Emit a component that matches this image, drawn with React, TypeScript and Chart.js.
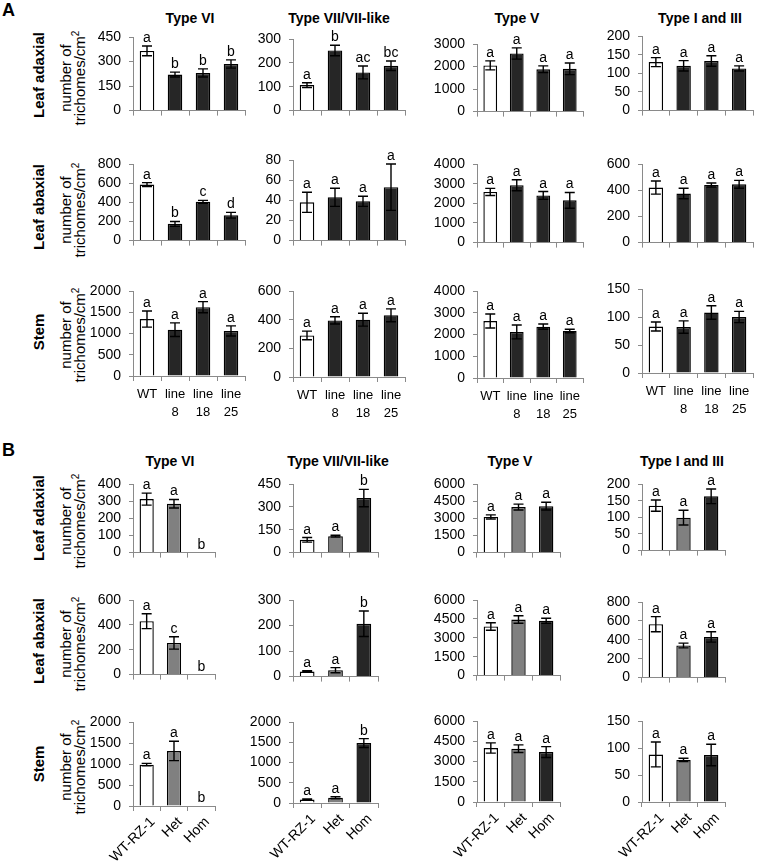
import React, { useEffect, useRef } from "react";
import { Chart, registerables } from "chart.js";
Chart.register(...registerables);

// ---------- categories / labels ----------
const groupsA = [["WT"], ["line", "8"], ["line", "18"], ["line", "25"]];
const groupsB = ["WT-RZ-1", "Het", "Hom"];
const typeTitles = ["Type VI", "Type VII/VII-like", "Type V", "Type I and III"];
const tissues = ["Leaf adaxial", "Leaf abaxial", "Stem"];

// ---------- axis ranges (max, step) ----------
const aAdaxMax = [450, 300, 3000, 200];
const aAdaxStep = [150, 100, 1000, 50];
const aAbaxMax = [800, 80, 4000, 600];
const aAbaxStep = [200, 20, 1000, 200];
const aStemMax = [2000, 600, 4000, 150];
const aStemStep = [500, 200, 1000, 50];
const bAdaxMax = [400, 450, 6000, 200];
const bAdaxStep = [100, 150, 1500, 50];
const bAbaxMax = [600, 300, 6000, 800];
const bAbaxStep = [200, 100, 1500, 200];
const bStemMax = [2000, 2000, 6000, 150];
const bStemStep = [500, 500, 1500, 50];

// ---------- Panel A: Leaf adaxial ----------
const aAdaxVI = [365, 220, 230, 285];
const aAdaxVIErr = [30, 15, 25, 25];
const aAdaxVISig = ["a", "b", "b", "b"];
const aAdaxVII = [107, 252, 160, 188];
const aAdaxVIIErr = [10, 22, 27, 20];
const aAdaxVIISig = ["a", "b", "ac", "bc"];
const aAdaxV = [2050, 2580, 1880, 1900];
const aAdaxVErr = [200, 250, 150, 260];
const aAdaxVSig = ["a", "a", "a", "a"];
const aAdaxI = [130, 120, 133, 113];
const aAdaxIErr = [12, 14, 14, 7];
const aAdaxISig = ["a", "a", "a", "a"];

// ---------- Panel A: Leaf abaxial ----------
const aAbaxVI = [585, 175, 405, 265];
const aAbaxVIErr = [20, 25, 15, 30];
const aAbaxVISig = ["a", "b", "c", "d"];
const aAbaxVII = [38, 43, 39, 53];
const aAbaxVIIErr = [10, 9, 5, 23];
const aAbaxVIISig = ["a", "a", "a", "a"];
const aAbaxV = [2580, 2920, 2400, 2150];
const aAbaxVErr = [180, 280, 200, 400];
const aAbaxVSig = ["a", "a", "a", "a"];
const aAbaxI = [420, 375, 440, 445];
const aAbaxIErr = [50, 40, 15, 30];
const aAbaxISig = ["a", "a", "a", "a"];

// ---------- Panel A: Stem ----------
const aStemVI = [1340, 1090, 1620, 1060];
const aStemVIErr = [190, 160, 130, 120];
const aStemVISig = ["a", "a", "a", "a"];
const aStemVII = [290, 395, 400, 430];
const aStemVIIErr = [30, 25, 45, 45];
const aStemVIISig = ["a", "a", "a", "a"];
const aStemV = [2620, 2120, 2360, 2160];
const aStemVErr = [320, 320, 120, 80];
const aStemVSig = ["a", "a", "a", "a"];
const aStemI = [83, 82, 108, 100];
const aStemIErr = [8, 11, 12, 10];
const aStemISig = ["a", "a", "a", "a"];

// ---------- Panel B: Leaf adaxial ----------
const bAdaxVI = [312, 285, 0];
const bAdaxVIErr = [35, 25, 0];
const bAdaxVISig = ["a", "a", "b"];
const bAdaxVII = [84, 108, 358];
const bAdaxVIIErr = [15, 6, 57];
const bAdaxVIISig = ["a", "a", "b"];
const bAdaxV = [3120, 3980, 4060];
const bAdaxVErr = [180, 260, 340];
const bAdaxVSig = ["a", "a", "a"];
const bAdaxI = [135, 99, 163];
const bAdaxIErr = [17, 22, 22];
const bAdaxISig = ["a", "a", "a"];

// ---------- Panel B: Leaf abaxial ----------
const bAbaxVI = [430, 255, 0];
const bAbaxVIErr = [60, 50, 0];
const bAbaxVISig = ["a", "c", "b"];
const bAbaxVII = [20, 25, 207];
const bAbaxVIIErr = [3, 10, 50];
const bAbaxVIISig = ["a", "a", "b"];
const bAbaxV = [3900, 4450, 4350];
const bAbaxVErr = [300, 300, 200];
const bAbaxVSig = ["a", "a", "a"];
const bAbaxI = [565, 340, 430];
const bAbaxIErr = [80, 25, 55];
const bAbaxISig = ["a", "a", "a"];

// ---------- Panel B: Stem ----------
const bStemVI = [985, 1310, 0];
const bStemVIErr = [30, 230, 0];
const bStemVISig = ["a", "a", "b"];
const bStemVII = [85, 130, 1480];
const bStemVIIErr = [15, 25, 110];
const bStemVIISig = ["a", "a", "b"];
const bStemV = [4000, 3950, 3700];
const bStemVErr = [380, 280, 400];
const bStemVSig = ["a", "a", "a"];
const bStemI = [88, 78, 87];
const bStemIErr = [23, 3, 20];
const bStemISig = ["a", "a", "a"];

// ---------- styling / layout (not data) ----------
const FONT = "'Liberation Sans', Arial, Helvetica, sans-serif";
const AXIS = "#8a8a8a";
const WHITE = "#ffffff";
const DARK = "#262626";
const GREY = "#808080";
const colorsA = [WHITE, DARK, DARK, DARK];
const colorsB = [WHITE, GREY, DARK];

const plotLeft = [133, 293, 477, 642];
const plotRightA = [245, 405, 583, 753];
const plotRightB = [215, 378, 560, 725];

const YW = 56;
const TP = 22;
const RP = 8;

type Spec = {
  labels: any[];
  values: number[];
  errors: number[];
  letters: string[];
  colors: string[];
  max: number;
  step: number;
  left: number;
  right: number;
  top: number;
  bottom: number;
  xh: number;
  showX: boolean;
  rotate: boolean;
};

function MiniChart({ s }: { s: Spec }) {
  const ref = useRef<HTMLCanvasElement>(null);
  const w = YW + (s.right - s.left) + RP;
  const h = TP + (s.bottom - s.top) + s.xh;
  useEffect(() => {
    const errPlugin = {
      id: "errLetters",
      afterDatasetsDraw(chart: any) {
        const ctx = chart.ctx;
        const meta = chart.getDatasetMeta(0);
        const y = chart.scales.y;
        ctx.save();
        ctx.strokeStyle = "#000";
        ctx.lineWidth = 1.4;
        meta.data.forEach((bar: any, i: number) => {
          const m = s.values[i];
          const e = s.errors[i];
          const x = bar.x;
          const yTop = y.getPixelForValue(m + e);
          const yBot = y.getPixelForValue(Math.max(0, m - e));
          if (e > 0) {
            ctx.beginPath();
            ctx.moveTo(x, yTop);
            ctx.lineTo(x, yBot);
            ctx.moveTo(x - 5, yTop);
            ctx.lineTo(x + 5, yTop);
            ctx.moveTo(x - 5, yBot);
            ctx.lineTo(x + 5, yBot);
            ctx.stroke();
          }
          ctx.fillStyle = "#000";
          ctx.font = `14px ${FONT}`;
          ctx.textAlign = "center";
          ctx.textBaseline = "alphabetic";
          ctx.fillText(s.letters[i], x, yTop - 4);
        });
        ctx.restore();
      },
    };
    const chart = new Chart(ref.current as HTMLCanvasElement, {
      type: "bar",
      data: {
        labels: s.labels,
        datasets: [
          {
            data: s.values,
            backgroundColor: s.colors,
            borderColor: "#000",
            borderWidth: 1.4,
            categoryPercentage: 1,
            barPercentage: 0.52,
          },
        ],
      },
      options: {
        responsive: false,
        maintainAspectRatio: false,
        animation: false,
        devicePixelRatio: 1,
        layout: { padding: { top: TP, right: RP, left: 0, bottom: 0 } },
        plugins: { legend: { display: false }, tooltip: { enabled: false }, title: { display: false } },
        scales: {
          x: {
            offset: true,
            grid: { offset: true, drawOnChartArea: false, drawTicks: true, tickLength: 5, color: AXIS, lineWidth: 1 },
            border: { display: true, color: AXIS, width: 1 },
            ticks: {
              display: s.showX,
              autoSkip: false,
              maxRotation: s.rotate ? 45 : 0,
              minRotation: s.rotate ? 45 : 0,
              padding: s.rotate ? 2 : 5,
              labelOffset: s.rotate ? 6 : 0,
              color: "#000",
              font: { family: FONT, size: s.rotate ? 14 : 13, lineHeight: 1.35 },
            },
            afterFit: (sc: any) => {
              sc.height = s.xh;
            },
          },
          y: {
            min: 0,
            max: s.max,
            grid: { drawOnChartArea: false, drawTicks: true, tickLength: 4, color: AXIS, lineWidth: 1 },
            border: { display: true, color: AXIS, width: 1 },
            ticks: {
              stepSize: s.step,
              padding: 8,
              color: "#000",
              font: { family: FONT, size: 14 },
              callback: (v: any) => String(v),
            },
            afterFit: (sc: any) => {
              sc.width = YW;
            },
          },
        },
      } as any,
      plugins: [errPlugin as any],
    });
    return () => chart.destroy();
  }, []);
  return (
    <canvas
      ref={ref}
      width={w}
      height={h}
      style={{ position: "absolute", left: s.left - YW, top: s.top - TP, width: w, height: h }}
    />
  );
}

function RotLabel({ x, y, children, style }: { x: number; y: number; children: any; style?: any }) {
  return (
    <div
      style={{
        position: "absolute",
        left: x,
        top: y,
        transform: "translate(-50%, -50%) rotate(-90deg)",
        whiteSpace: "nowrap",
        textAlign: "center",
        fontFamily: FONT,
        color: "#000",
        ...style,
      }}
    >
      {children}
    </div>
  );
}

function Title({ x, y, text }: { x: number; y: number; text: string }) {
  return (
    <div
      style={{
        position: "absolute",
        left: x,
        top: y,
        transform: "translate(-50%, -50%)",
        whiteSpace: "nowrap",
        fontFamily: FONT,
        fontWeight: "bold",
        fontSize: 14,
        color: "#000",
      }}
    >
      {text}
    </div>
  );
}

export default function App() {
  const specs: Spec[] = [];
  const add = (
    panel: "A" | "B",
    col: number,
    values: number[],
    errors: number[],
    letters: string[],
    max: number,
    step: number,
    top: number,
    bottom: number,
    last: boolean
  ) => {
    specs.push({
      labels: panel === "A" ? groupsA : groupsB,
      values,
      errors,
      letters,
      colors: panel === "A" ? colorsA : colorsB,
      max,
      step,
      left: plotLeft[col],
      right: panel === "A" ? plotRightA[col] : plotRightB[col],
      top,
      bottom,
      xh: last ? (panel === "A" ? 45 : 60) : 10,
      showX: last,
      rotate: panel === "B" && last,
    });
  };

  // Panel A
  const aR1Top = [37, 39, 44, 36];
  add("A", 0, aAdaxVI, aAdaxVIErr, aAdaxVISig, aAdaxMax[0], aAdaxStep[0], aR1Top[0], 117, false);
  add("A", 1, aAdaxVII, aAdaxVIIErr, aAdaxVIISig, aAdaxMax[1], aAdaxStep[1], aR1Top[1], 117, false);
  add("A", 2, aAdaxV, aAdaxVErr, aAdaxVSig, aAdaxMax[2], aAdaxStep[2], aR1Top[2], 118, false);
  add("A", 3, aAdaxI, aAdaxIErr, aAdaxISig, aAdaxMax[3], aAdaxStep[3], aR1Top[3], 117, false);

  const aR2Top = [164, 160, 164, 164];
  add("A", 0, aAbaxVI, aAbaxVIErr, aAbaxVISig, aAbaxMax[0], aAbaxStep[0], aR2Top[0], 247, false);
  add("A", 1, aAbaxVII, aAbaxVIIErr, aAbaxVIISig, aAbaxMax[1], aAbaxStep[1], aR2Top[1], 247, false);
  add("A", 2, aAbaxV, aAbaxVErr, aAbaxVSig, aAbaxMax[2], aAbaxStep[2], aR2Top[2], 249, false);
  add("A", 3, aAbaxI, aAbaxIErr, aAbaxISig, aAbaxMax[3], aAbaxStep[3], aR2Top[3], 249, false);

  const aR3Top = [291, 291, 291, 289];
  add("A", 0, aStemVI, aStemVIErr, aStemVISig, aStemMax[0], aStemStep[0], aR3Top[0], 376, true);
  add("A", 1, aStemVII, aStemVIIErr, aStemVIISig, aStemMax[1], aStemStep[1], aR3Top[1], 377, true);
  add("A", 2, aStemV, aStemVErr, aStemVSig, aStemMax[2], aStemStep[2], aR3Top[2], 378, true);
  add("A", 3, aStemI, aStemIErr, aStemISig, aStemMax[3], aStemStep[3], aR3Top[3], 373, true);

  // Panel B
  add("B", 0, bAdaxVI, bAdaxVIErr, bAdaxVISig, bAdaxMax[0], bAdaxStep[0], 484, 559, false);
  add("B", 1, bAdaxVII, bAdaxVIIErr, bAdaxVIISig, bAdaxMax[1], bAdaxStep[1], 484, 559, false);
  add("B", 2, bAdaxV, bAdaxVErr, bAdaxVSig, bAdaxMax[2], bAdaxStep[2], 484, 559, false);
  add("B", 3, bAdaxI, bAdaxIErr, bAdaxISig, bAdaxMax[3], bAdaxStep[3], 484, 557, false);

  add("B", 0, bAbaxVI, bAbaxVIErr, bAbaxVISig, bAbaxMax[0], bAbaxStep[0], 600, 681, false);
  add("B", 1, bAbaxVII, bAbaxVIIErr, bAbaxVIISig, bAbaxMax[1], bAbaxStep[1], 600, 683, false);
  add("B", 2, bAbaxV, bAbaxVErr, bAbaxVSig, bAbaxMax[2], bAbaxStep[2], 600, 682, false);
  add("B", 3, bAbaxI, bAbaxIErr, bAbaxISig, bAbaxMax[3], bAbaxStep[3], 602, 684, false);

  add("B", 0, bStemVI, bStemVIErr, bStemVISig, bStemMax[0], bStemStep[0], 722, 806, true);
  add("B", 1, bStemVII, bStemVIIErr, bStemVIISig, bStemMax[1], bStemStep[1], 722, 803, true);
  add("B", 2, bStemV, bStemVErr, bStemVSig, bStemMax[2], bStemStep[2], 721, 802, true);
  add("B", 3, bStemI, bStemIErr, bStemISig, bStemMax[3], bStemStep[3], 721, 802, true);

  const titleXA = [190, 339, 517, 700];
  const titleXB = [170, 338, 510, 682];
  const rowYA = [75, 207, 332];
  const rowYB = [518, 641, 764];

  const yTitle = (
    <>
      number of
      <br />
      trichomes/cm<sup style={{ fontSize: 10, lineHeight: 0 }}>2</sup>
    </>
  );

  return (
    <div
      style={{
        position: "absolute",
        left: 0,
        top: 0,
        width: 758,
        height: 862,
        overflow: "hidden",
        background: "#fff",
      }}
    >
      <div style={{ position: "absolute", left: 2, top: 0, fontFamily: FONT, fontWeight: "bold", fontSize: 18 }}>A</div>
      <div style={{ position: "absolute", left: 2, top: 440, fontFamily: FONT, fontWeight: "bold", fontSize: 18 }}>B</div>
      {typeTitles.map((t, i) => (
        <Title key={"ta" + i} x={titleXA[i]} y={18} text={t} />
      ))}
      {typeTitles.map((t, i) => (
        <Title key={"tb" + i} x={titleXB[i]} y={461} text={t} />
      ))}
      {tissues.map((t, i) => (
        <RotLabel key={"ra" + i} x={38} y={rowYA[i]} style={{ fontWeight: "bold", fontSize: 15 }}>
          {t}
        </RotLabel>
      ))}
      {tissues.map((t, i) => (
        <RotLabel key={"rb" + i} x={38} y={rowYB[i]} style={{ fontWeight: "bold", fontSize: 15 }}>
          {t}
        </RotLabel>
      ))}
      {rowYA.map((y, i) => (
        <RotLabel key={"ya" + i} x={73} y={y + 3} style={{ fontSize: 15, lineHeight: "14px" }}>
          {yTitle}
        </RotLabel>
      ))}
      {rowYB.map((y, i) => (
        <RotLabel key={"yb" + i} x={73} y={y + 3} style={{ fontSize: 15, lineHeight: "14px" }}>
          {yTitle}
        </RotLabel>
      ))}
      {specs.map((s, i) => (
        <MiniChart key={i} s={s} />
      ))}
    </div>
  );
}
